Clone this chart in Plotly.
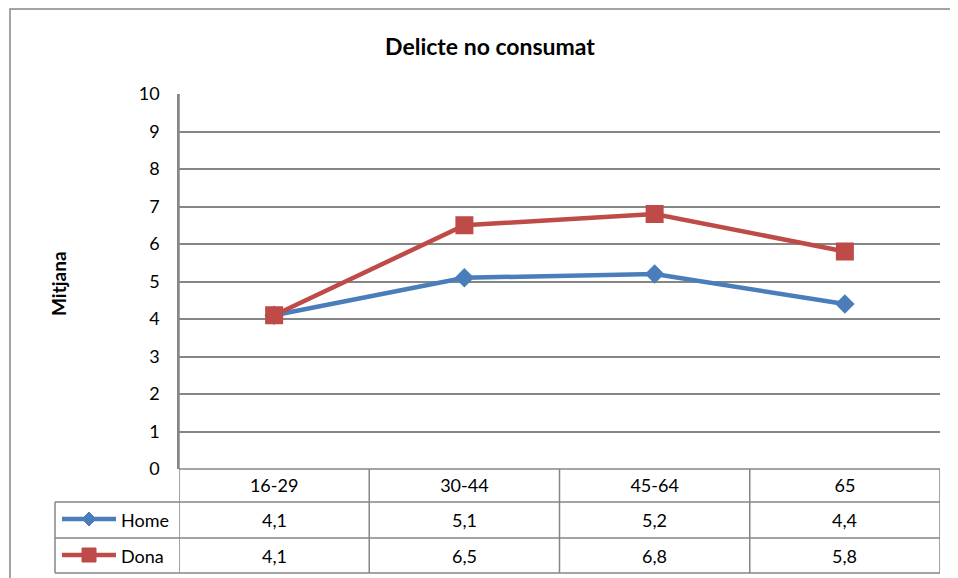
import plotly.graph_objects as go

# data
groups = ['16-29', '30-44', '45-64', '65']
home = [4.1, 5.1, 5.2, 4.4]
dona = [4.1, 6.5, 6.8, 5.8]
series_names = ['Home', 'Dona']
y_ticks = list(range(0, 11))

blue = '#4A7EBB'
red = '#BE4B48'
grey = '#868686'
font = 'Lato'

# the page body has an 8px margin, so the figure is a bit smaller
OFF = 8
W, H = 958 - OFF, 578 - OFF
L, R, T, B = 179, 940, 94, 469  # plot area in screen pixels


def px_x(p):
    return (p - L) / (R - L)


def px_y(p):
    return (B - p) / (B - T)


def fmt(v):
    return f'{v:.1f}'.replace('.', ',')


x_idx = list(range(len(groups)))

fig = go.Figure()
fig.add_trace(go.Scatter(x=x_idx, y=home, name='Home', mode='lines+markers',
                         line=dict(color=blue, width=4.5),
                         marker=dict(symbol='diamond', size=15, color=blue)))
fig.add_trace(go.Scatter(x=x_idx, y=dona, name='Dona', mode='lines+markers',
                         line=dict(color=red, width=4.5),
                         marker=dict(symbol='square', size=18, color=red)))

shapes = []
line = dict(color=grey, width=1.5)
# outer chart border
shapes.append(dict(type='rect', xref='paper', yref='paper',
                   x0=px_x(10), x1=px_x(975), y0=px_y(600), y1=px_y(9), line=line))
# table rows
for yy in [502, 538, 573]:
    shapes.append(dict(type='line', xref='paper', yref='paper',
                       x0=px_x(55), x1=1, y0=px_y(yy), y1=px_y(yy), line=line))
shapes.append(dict(type='line', xref='paper', yref='paper',
                   x0=0, x1=1, y0=0, y1=0, line=line))
# table columns
shapes.append(dict(type='line', xref='paper', yref='paper',
                   x0=px_x(55), x1=px_x(55), y0=px_y(502), y1=px_y(573), line=line))
for i in range(len(groups) + 1):
    xb = i - 0.5
    y_top = 1 if i == 0 else 0
    shapes.append(dict(type='line', xref='x', yref='paper',
                       x0=xb, x1=xb, y0=y_top, y1=px_y(573), line=line))

annotations = []
row_y = [520, 556]
for name, vals, yy in zip(series_names, [home, dona], row_y):
    for i, v in enumerate(vals):
        annotations.append(dict(x=i, y=px_y(yy), xref='x', yref='paper',
                                xanchor='center', yanchor='middle',
                                text=fmt(v), showarrow=False,
                                font=dict(family=font, size=18, color='#000000')))
    annotations.append(dict(x=px_x(119), y=px_y(yy), xref='paper', yref='paper',
                            text=name, showarrow=False, xanchor='left', yanchor='middle',
                            font=dict(family=font, size=18, color='#000000')))

# legend keys inside the table
for color, yy, sym in [(blue, row_y[0], 'diamond'), (red, row_y[1], 'square')]:
    cy = yy - 1
    shapes.append(dict(type='line', xref='paper', yref='paper',
                       x0=px_x(62), x1=px_x(116), y0=px_y(cy), y1=px_y(cy),
                       line=dict(color=color, width=4.5)))
    if sym == 'diamond':
        cx, r = 89, 7
        path = (f'M {px_x(cx - r)} {px_y(cy)} L {px_x(cx)} {px_y(cy - r)} '
                f'L {px_x(cx + r)} {px_y(cy)} L {px_x(cx)} {px_y(cy + r)} Z')
        shapes.append(dict(type='path', xref='paper', yref='paper', path=path,
                           fillcolor=color, line=dict(color=color, width=1)))
    else:
        cx, r = 89, 7
        shapes.append(dict(type='rect', xref='paper', yref='paper',
                           x0=px_x(cx - r), x1=px_x(cx + r), y0=px_y(cy + r), y1=px_y(cy - r),
                           fillcolor=color, line=dict(color=color, width=1)))

annotations.append(dict(x=px_x(58), y=px_y(283), xref='paper', yref='paper',
                        xanchor='center', yanchor='middle',
                        text='<b>Mitjana</b>', showarrow=False, textangle=-90,
                        font=dict(family=font, size=19, color='#000000')))

fig.update_layout(
    width=W, height=H,
    margin=dict(l=L - OFF, r=958 - R, t=T - OFF, b=578 - B),
    paper_bgcolor='white', plot_bgcolor='white',
    showlegend=False,
    title=dict(text='<b>Delicte no consumat</b>', x=(490 - OFF) / W, xanchor='center',
               y=1 - (47 - OFF) / H, yanchor='middle',
               font=dict(family=font, size=23, color='#000000')),
    font=dict(family=font, size=18, color='#000000'),
    shapes=shapes,
    annotations=annotations,
)
fig.update_xaxes(range=[-0.5, len(groups) - 0.5], tickmode='array', tickvals=x_idx,
                 ticktext=groups, showgrid=False, zeroline=False, showline=False,
                 ticks='', ticklabelstandoff=4, tickfont=dict(family=font, size=18))
fig.update_yaxes(range=[0, 10], tickmode='array', tickvals=y_ticks,
                 showgrid=True, gridcolor=grey, gridwidth=1.5, zeroline=False,
                 showline=True, linecolor=grey, linewidth=1.5, ticks='',
                 ticklabelstandoff=14, tickfont=dict(family=font, size=18))

fig.write_html('out.html')
